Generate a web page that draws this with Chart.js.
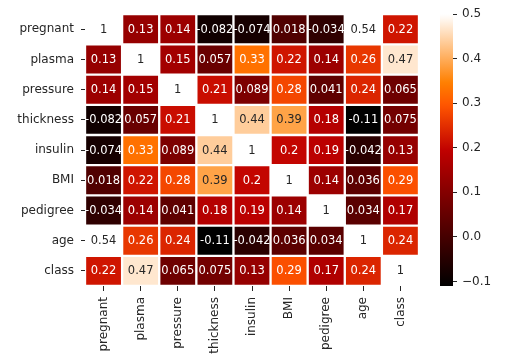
<!DOCTYPE html>
<html><head><meta charset="utf-8">
<script src="https://cdn.jsdelivr.net/npm/chart.js@4/dist/chart.umd.min.js"></script>
<style>
html,body{margin:0;padding:0;background:#fff;}
#wrap{position:relative;width:524px;height:364px;}
canvas{position:absolute;left:0;top:0;}
</style></head><body>
<div id="wrap"><canvas id="heat" width="524" height="364"></canvas><canvas id="cbar" width="524" height="364"></canvas></div>
<script>
const features = ['pregnant','plasma','pressure','thickness','insulin','BMI','pedigree','age','class'];
const rowPregnant  = [1, 0.13, 0.14, -0.082, -0.074, 0.018, -0.034, 0.54, 0.22];
const rowPlasma    = [0.13, 1, 0.15, 0.057, 0.33, 0.22, 0.14, 0.26, 0.47];
const rowPressure  = [0.14, 0.15, 1, 0.21, 0.089, 0.28, 0.041, 0.24, 0.065];
const rowThickness = [-0.082, 0.057, 0.21, 1, 0.44, 0.39, 0.18, -0.11, 0.075];
const rowInsulin   = [-0.074, 0.33, 0.089, 0.44, 1, 0.2, 0.19, -0.042, 0.13];
const rowBMI       = [0.018, 0.22, 0.28, 0.39, 0.2, 1, 0.14, 0.036, 0.29];
const rowPedigree  = [-0.034, 0.14, 0.041, 0.18, 0.19, 0.14, 1, 0.034, 0.17];
const rowAge       = [0.54, 0.26, 0.24, -0.11, -0.042, 0.036, 0.034, 1, 0.24];
const rowClass     = [0.22, 0.47, 0.065, 0.075, 0.13, 0.29, 0.17, 0.24, 1];
const colorbarTicks = [-0.1, 0.0, 0.1, 0.2, 0.3, 0.4, 0.5];
const vmin = -0.11, vmax = 0.5;

const matrix = [rowPregnant,rowPlasma,rowPressure,rowThickness,rowInsulin,rowBMI,rowPedigree,rowAge,rowClass];
const FONT = '"DejaVu Sans", sans-serif';
const DARK = '#262626';

function clamp(x){return Math.max(0, Math.min(1, x));}
function heatRGB(t){
  t = clamp(t);
  let idx = Math.min(255, Math.floor(t*256));
  const x = idx/255;
  return [clamp(1.5*x), clamp(2*x-1), clamp(4*x-3)];
}
function toCss(c){return 'rgb(' + c.map(v=>Math.round(v*255)).join(',') + ')';}
function valColor(v){return heatRGB((v - vmin)/(vmax - vmin));}
function lum(c){
  const lin = c.map(u => u <= 0.03928 ? u/12.92 : Math.pow((u+0.055)/1.055, 2.4));
  return 0.2126*lin[0] + 0.7152*lin[1] + 0.0722*lin[2];
}
function fmt(v){return Number(v.toPrecision(2)).toString();}

const annotate = {
  id: 'annot',
  afterDatasetsDraw(chart){
    const ctx = chart.ctx;
    ctx.save();
    ctx.font = '11.5px ' + FONT;
    ctx.textAlign = 'center';
    ctx.textBaseline = 'middle';
    chart.data.datasets.forEach((ds, r) => {
      chart.getDatasetMeta(r).data.forEach((el, c) => {
        const v = matrix[r][c];
        ctx.fillStyle = lum(valColor(v)) > 0.408 ? DARK : '#ffffff';
        ctx.fillText(fmt(v), el.x, (el.y + el.base)/2 + 0.5);
      });
    });
    ctx.restore();
  }
};

new Chart(document.getElementById('heat'), {
  type: 'bar',
  data: {
    labels: features,
    datasets: features.map((f, r) => ({
      label: f,
      data: matrix[r].map(() => [r, r + 1]),
      backgroundColor: matrix[r].map(v => toCss(valColor(v))),
      borderColor: '#ffffff',
      borderWidth: 1.5,
      borderSkipped: false,
      barPercentage: 1,
      categoryPercentage: 1,
      grouped: false
    }))
  },
  options: {
    responsive: false, animation: false, devicePixelRatio: 1,
    layout: {padding: {top: 14, right: 105, left: 0, bottom: 0}},
    plugins: {legend: {display: false}, tooltip: {enabled: false}},
    scales: {
      x: {
        type: 'category', offset: true,
        grid: {offset: false, drawOnChartArea: false, drawTicks: true, tickLength: 5, color: DARK},
        border: {display: false},
        ticks: {minRotation: 90, maxRotation: 90, autoSkip: false, padding: 6, color: DARK, font: {family: FONT, size: 12}},
        afterFit: s => { s.height = 78; }
      },
      y: {
        type: 'linear', reverse: true, min: 0, max: features.length,
        afterBuildTicks: s => { s.ticks = features.map((f, i) => ({value: i + 0.5})); },
        grid: {drawOnChartArea: false, drawTicks: true, tickLength: 4, color: DARK},
        border: {display: false},
        ticks: {autoSkip: false, padding: 7, color: DARK, font: {family: FONT, size: 12},
                callback: v => features[Math.floor(v)]},
        afterFit: s => { s.width = 85; }
      }
    }
  },
  plugins: [annotate]
});

new Chart(document.getElementById('cbar'), {
  type: 'bar',
  data: {
    labels: ['colorbar'],
    datasets: [{
      data: [[vmin, vmax]],
      backgroundColor: (c) => {
        const chart = c.chart;
        if (!chart.chartArea) return '#000';
        const y = chart.scales.y;
        const g = chart.ctx.createLinearGradient(0, y.getPixelForValue(vmin), 0, y.getPixelForValue(vmax));
        for (let i = 0; i <= 64; i++) { const t = i/64; g.addColorStop(t, toCss(heatRGB(t))); }
        return g;
      },
      borderWidth: 0, borderSkipped: false,
      barPercentage: 1, categoryPercentage: 1
    }]
  },
  options: {
    responsive: false, animation: false, devicePixelRatio: 1,
    layout: {padding: {left: 440, top: 14, bottom: 78, right: 0}},
    plugins: {legend: {display: false}, tooltip: {enabled: false}},
    scales: {
      x: {display: false},
      y: {
        position: 'right', min: vmin, max: vmax,
        afterBuildTicks: s => { s.ticks = colorbarTicks.map(v => ({value: v})); },
        grid: {drawOnChartArea: false, drawTicks: true, tickLength: 4, color: DARK},
        border: {display: false},
        ticks: {padding: 5, color: DARK, font: {family: FONT, size: 12},
                callback: v => v.toFixed(1).replace('-', '\u2212')},
        afterFit: s => { s.width = 71; }
      }
    }
  }
});
</script>
</body></html>
